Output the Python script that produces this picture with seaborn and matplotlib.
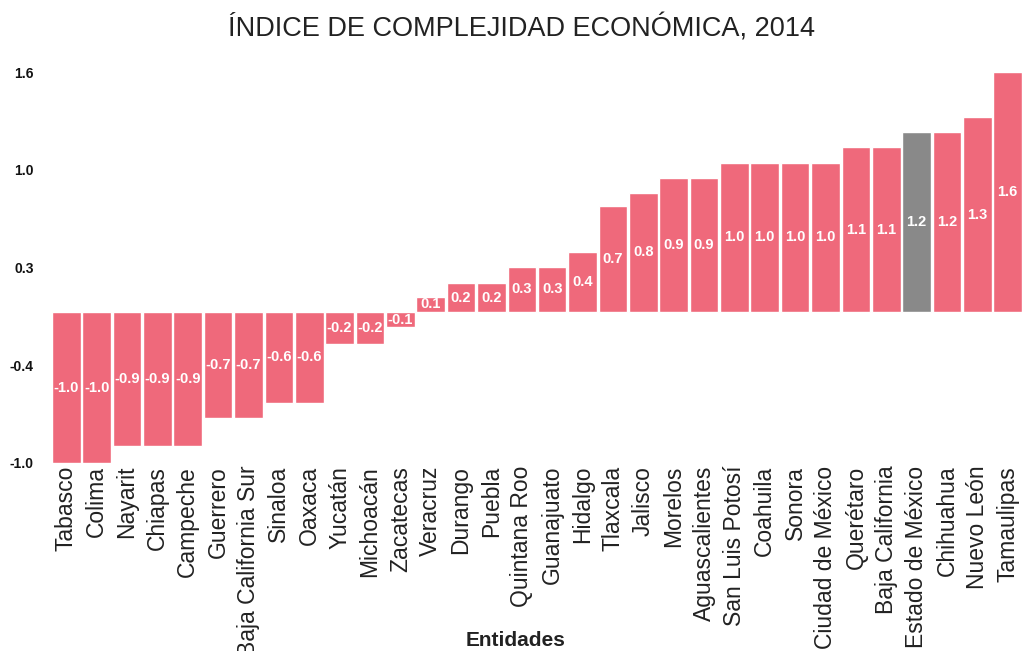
import matplotlib
matplotlib.use("Agg")
import matplotlib.pyplot as plt
import seaborn as sns
import numpy as np
import pandas as pd

estados = ["Tabasco", "Colima", "Nayarit", "Chiapas", "Campeche", "Guerrero",
           "Baja California Sur", "Sinaloa", "Oaxaca", "Yucatán", "Michoacán",
           "Zacatecas", "Veracruz", "Durango", "Puebla", "Quintana Roo",
           "Guanajuato", "Hidalgo", "Tlaxcala", "Jalisco", "Morelos",
           "Aguascalientes", "San Luis Potosí", "Coahuila", "Sonora",
           "Ciudad de México", "Querétaro", "Baja California",
           "Estado de México", "Chihuahua", "Nuevo León", "Tamaulipas"]
indice = [-1.00, -1.00, -0.89, -0.89, -0.89, -0.70, -0.70, -0.60, -0.60,
          -0.21, -0.21, -0.10, 0.10, 0.19, 0.19, 0.30, 0.30, 0.40, 0.70,
          0.79, 0.89, 0.89, 0.99, 0.99, 0.99, 0.99, 1.09, 1.09, 1.19,
          1.19, 1.29, 1.59]
destacado = "Estado de México"
ytick_labels = ["-1.0", "-0.4", "0.3", "1.0", "1.6"]

PINK = "#EF697B"
GRAY = "#898989"

sns.set_theme(style="white")
plt.rcParams["font.family"] = ["Liberation Sans", "DejaVu Sans"]

df = pd.DataFrame({"Entidad": estados, "Indice": indice})
palette = {e: (GRAY if e == destacado else PINK) for e in estados}

fig = plt.figure(figsize=(10.22, 6.51), dpi=100)
ax = fig.add_axes([52 / 1022, 1 - 463 / 651, 970 / 1022, (463 - 72) / 651])

w = 0.94
sns.barplot(data=df, x="Entidad", y="Indice", hue="Entidad", palette=palette,
            legend=False, width=w, saturation=1, ax=ax)

ymin, ymax = min(indice), max(indice)
ax.set_ylim(ymin, ymax)
ax.set_xlim(-w / 2, len(estados) - 1 + w / 2)

for i, v in enumerate(indice):
    ax.text(i, v / 2, f"{v:.1f}", ha="center", va="center", color="white",
            fontsize=10.5, fontweight="bold")

ax.set_yticks(np.linspace(ymin, ymax, 5))
ax.set_yticklabels(ytick_labels, fontsize=10, fontweight="bold", color="#111111")
ax.tick_params(axis="y", length=0, pad=13)
ax.tick_params(axis="x", length=0, pad=2)
ax.set_xticks(range(len(estados)))
ax.set_xticklabels(estados, rotation=90, fontsize=16.5, color="#222222")
for s in ax.spines.values():
    s.set_visible(False)
ax.set_xlabel("")
ax.set_ylabel("")

fig.text(521 / 1022, 1 - 28 / 651, "ÍNDICE DE COMPLEJIDAD ECONÓMICA, 2014",
         ha="center", va="center", fontsize=19.5, color="#222222")
fig.text(516 / 1022, 1 - 641 / 651, "Entidades", ha="center", va="center",
         fontsize=15, fontweight="bold", color="#222222")

fig.savefig("out.png", dpi=100)
